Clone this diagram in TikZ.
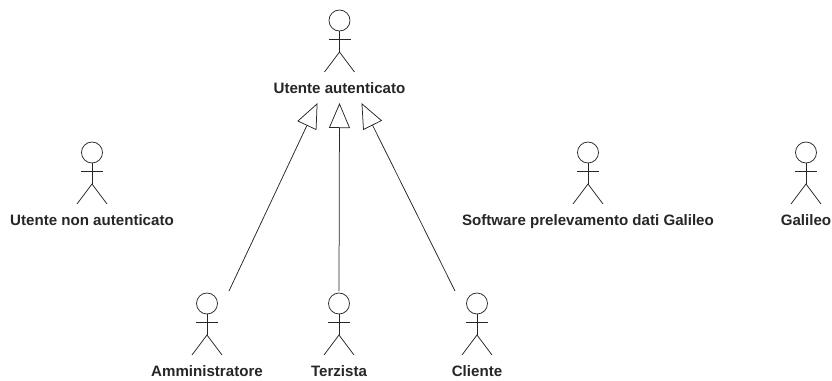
\documentclass[tikz,border=0pt]{standalone}
\usepackage{fontspec}
\setmainfont{Liberation Sans}
\usetikzlibrary{arrows.meta}
\tikzset{
  actorbox/.style = {rectangle, inner sep=0pt, outer sep=0pt, minimum width=44pt, minimum height=95pt},
  actorlabel/.style = {inner sep=0pt, anchor=base, text=black!85, font=\fontsize{15.1}{18}\selectfont\bfseries},
  generalization/.style = {-{Triangle[open,length=25pt,width=21pt]}, shorten >=0pt},
  pics/actor/.style = {
    code = {
      \node [actorbox] (box) at (0,45.5) {};
      \draw (0,10.5) circle (10.5pt);
      \draw (0,21) -- (0,42);
      \draw (-11,29) -- (11,29);
      \draw (-15,62) -- (0,42) -- (15,62);
      \node [actorlabel] (label) at (0,83.5) {#1};
    }
  },
}

\begin{document}
\begin{tikzpicture}[x=1pt, y=-1pt, line width=0.75pt, draw=black!85]
    \useasboundingbox (0,0) rectangle (832,380);
    \pic (utente) at (339.5,10) {actor={Utente autenticato}};
    \pic (ospite) at (92,142) {actor={Utente non autenticato}};
    \pic (software) at (588,142) {actor={Software prelevamento dati Galileo}};
    \pic (galileo) at (806,142) {actor={Galileo}};
    \pic (admin) at (207,293) {actor={Amministratore}};
    \pic (terzista) at (339,293) {actor={Terzista}};
    \pic (cliente) at (477,293) {actor={Cliente}};
    \draw [generalization] (adminbox.north east) -- (utentebox.south west);
    \draw [generalization] (terzistabox.north) -- (utentebox.south);
    \draw [generalization] (clientebox.north west) -- (utentebox.south east);
\end{tikzpicture}
\end{document}
